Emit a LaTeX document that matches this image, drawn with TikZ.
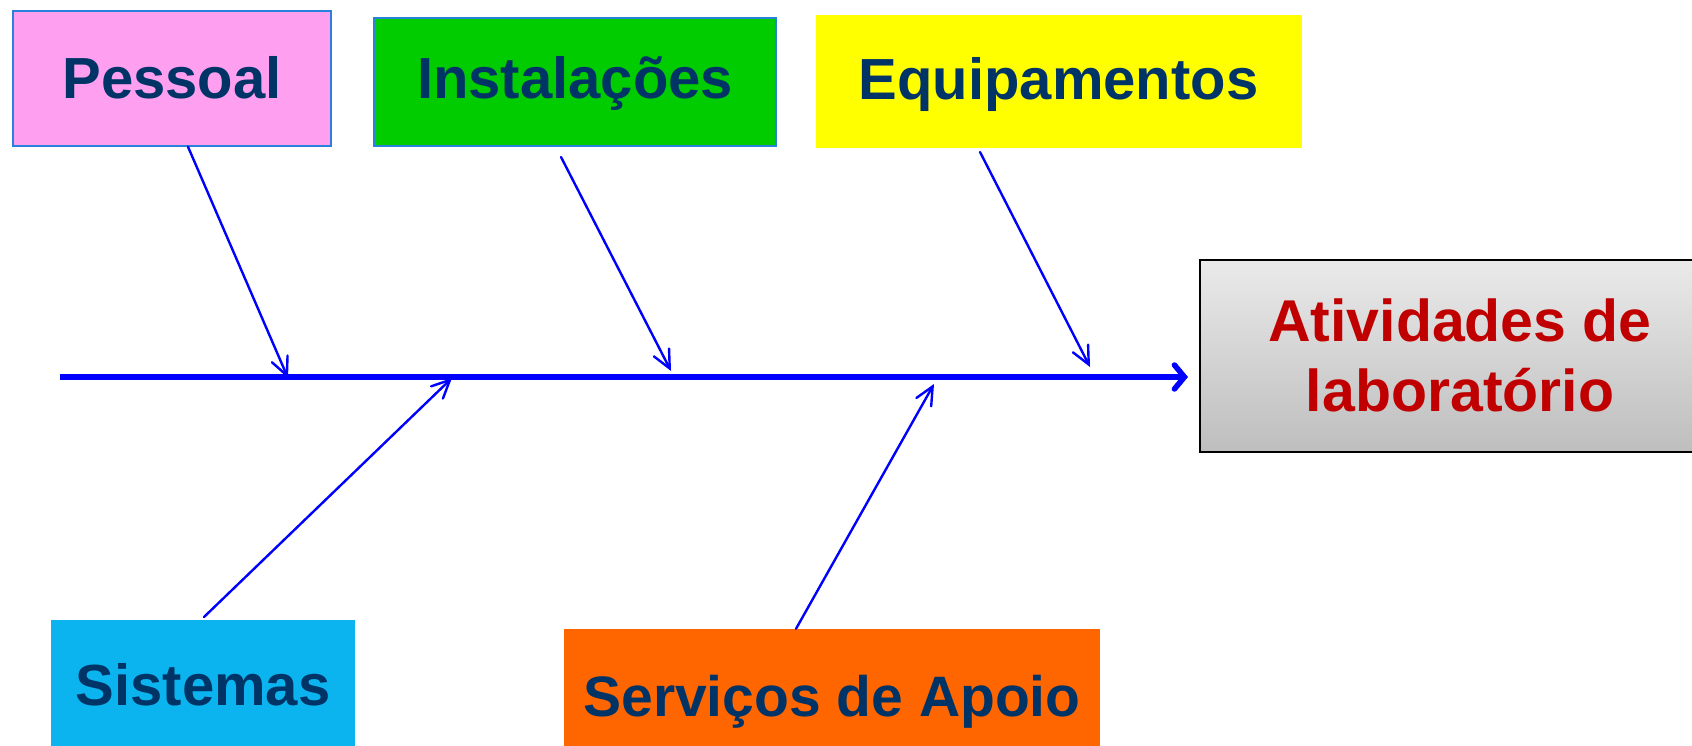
\documentclass[tikz,border=0pt]{standalone}
\usepackage{fontspec}
\setmainfont{Liberation Sans}
\usetikzlibrary{arrows.meta}
\definecolor{navy}{RGB}{0,51,102}
\definecolor{darkred}{RGB}{192,0,0}
\definecolor{pinkc}{RGB}{255,159,240}
\definecolor{greenc}{RGB}{0,204,0}
\definecolor{yellowc}{RGB}{255,255,0}
\definecolor{cyanc}{RGB}{11,180,238}
\definecolor{orangec}{RGB}{255,102,0}
\definecolor{bordc}{RGB}{40,130,220}
\definecolor{gtop}{RGB}{234,234,234}
\definecolor{gbot}{RGB}{190,190,190}
\begin{document}
\begin{tikzpicture}[x=1pt,y=-1pt,
  cbox/.style={rectangle, inner sep=0pt, text depth=0pt, font=\fontsize{58}{70}\selectfont\bfseries, text=navy},
  bone/.style={draw=blue, line width=2.4pt, line cap=round, -{Straight Barb[length=18pt,width=17pt,line cap=round]}},
  spine/.style={draw=blue, line width=5.5pt, -{Straight Barb[length=10pt,width=24pt,line cap=round]}},
]
\useasboundingbox (0,0) rectangle (1692,746);
% cause boxes
\node[cbox, fill=pinkc, draw=bordc, line width=1.5pt, minimum width=318pt, minimum height=135pt, text height=41pt] (pes) at (172,78.5) {Pessoal};
\node[cbox, fill=greenc, draw=bordc, line width=1.5pt, minimum width=402pt, minimum height=128pt, text height=34pt] (ins) at (575,82) {Instalações};
\node[cbox, fill=yellowc, minimum width=486pt, minimum height=133pt, text height=37pt] (equ) at (1058.5,81.5) {Equipamentos};
\node[cbox, fill=cyanc, minimum width=304pt, minimum height=170pt, text height=20pt, text depth=20pt] (sis) at (203,705) {Sistemas};
\node[cbox, fill=orangec, minimum width=536pt, minimum height=162pt, text height=30pt, text depth=18pt, font=\fontsize{57}{68}\selectfont\bfseries] (ser) at (832,710) {Serviços de Apoio};
% effect box
\node[rectangle, draw=black, line width=2pt, top color=gtop, bottom color=gbot, minimum width=520pt, minimum height=192pt, inner sep=0pt, align=center, text=darkred, font=\fontsize{59}{70}\selectfont\bfseries] (act) at (1460,355.5) {Atividades de\\laboratório};
% spine
\coordinate (tail) at (60,377);
\draw[spine, shorten >=11pt] (tail) -- (tail -| act.west);
% bone end points on the spine
\coordinate (pesE) at (288,378);
\coordinate (insE) at (671,371);
\coordinate (equE) at (1090,367);
\coordinate (sisE) at (452,378);
\coordinate (serE) at (934,384);
\coordinate (insS) at (561,157);
\coordinate (equS) at (980,152);
\coordinate (sisS) at (204,617);
\draw[bone] ([xshift=16pt]pes.south) -- (pesE);
\draw[bone] (insS) -- (insE);
\draw[bone] (equS) -- (equE);
\draw[bone] (sisS) -- (sisE);
\draw[bone] ([xshift=-36pt]ser.north) -- (serE);
\end{tikzpicture}
\end{document}
